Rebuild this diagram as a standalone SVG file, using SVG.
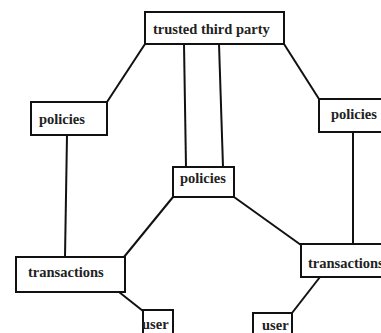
<svg xmlns="http://www.w3.org/2000/svg" width="381" height="333" viewBox="0 0 381 333">
<style>
rect{fill:#fff;stroke:#111;stroke-width:2}
line{stroke:#111;stroke-width:2}
text{font-family:"Liberation Serif","Times New Roman",serif;font-weight:bold;font-size:14.5px;fill:#222}
</style>
<rect x="0" y="0" width="381" height="333" fill="#fff" style="stroke:none"/>
<g id="connectors">
<line x1="145" y1="44" x2="107" y2="102"/>
<line x1="184" y1="44" x2="186" y2="167"/>
<line x1="219" y1="44" x2="223" y2="167"/>
<line x1="284" y1="44" x2="319" y2="99"/>
<line x1="67" y1="135" x2="65" y2="257"/>
<line x1="353" y1="132" x2="353" y2="244"/>
<line x1="173" y1="197" x2="124" y2="257"/>
<line x1="234" y1="197" x2="301" y2="245"/>
<line x1="119" y1="292" x2="143" y2="311"/>
<line x1="320" y1="277" x2="292" y2="313"/>
</g>
<g id="ttp"><rect x="145" y="12" width="139" height="32"/><text x="153" y="34">trusted third party</text></g>
<g id="policies-left"><rect x="31" y="102" width="76" height="33"/><text x="39" y="124">policies</text></g>
<g id="policies-right"><rect x="319" y="99" width="70" height="33"/><text x="331" y="119">policies</text></g>
<g id="policies-mid"><rect x="173" y="167" width="61" height="30"/><text x="180" y="183">policies</text></g>
<g id="transactions-left"><rect x="16" y="257" width="109" height="35"/><text x="28" y="277">transactions</text></g>
<g id="transactions-right"><rect x="301" y="244" width="90" height="33"/><text x="308" y="268">transactions</text></g>
<g id="user-left"><rect x="143" y="310" width="30" height="30"/><text x="142" y="329">user</text></g>
<g id="user-right"><rect x="253" y="313" width="39" height="30"/><text x="262" y="330">user</text></g>
</svg>
